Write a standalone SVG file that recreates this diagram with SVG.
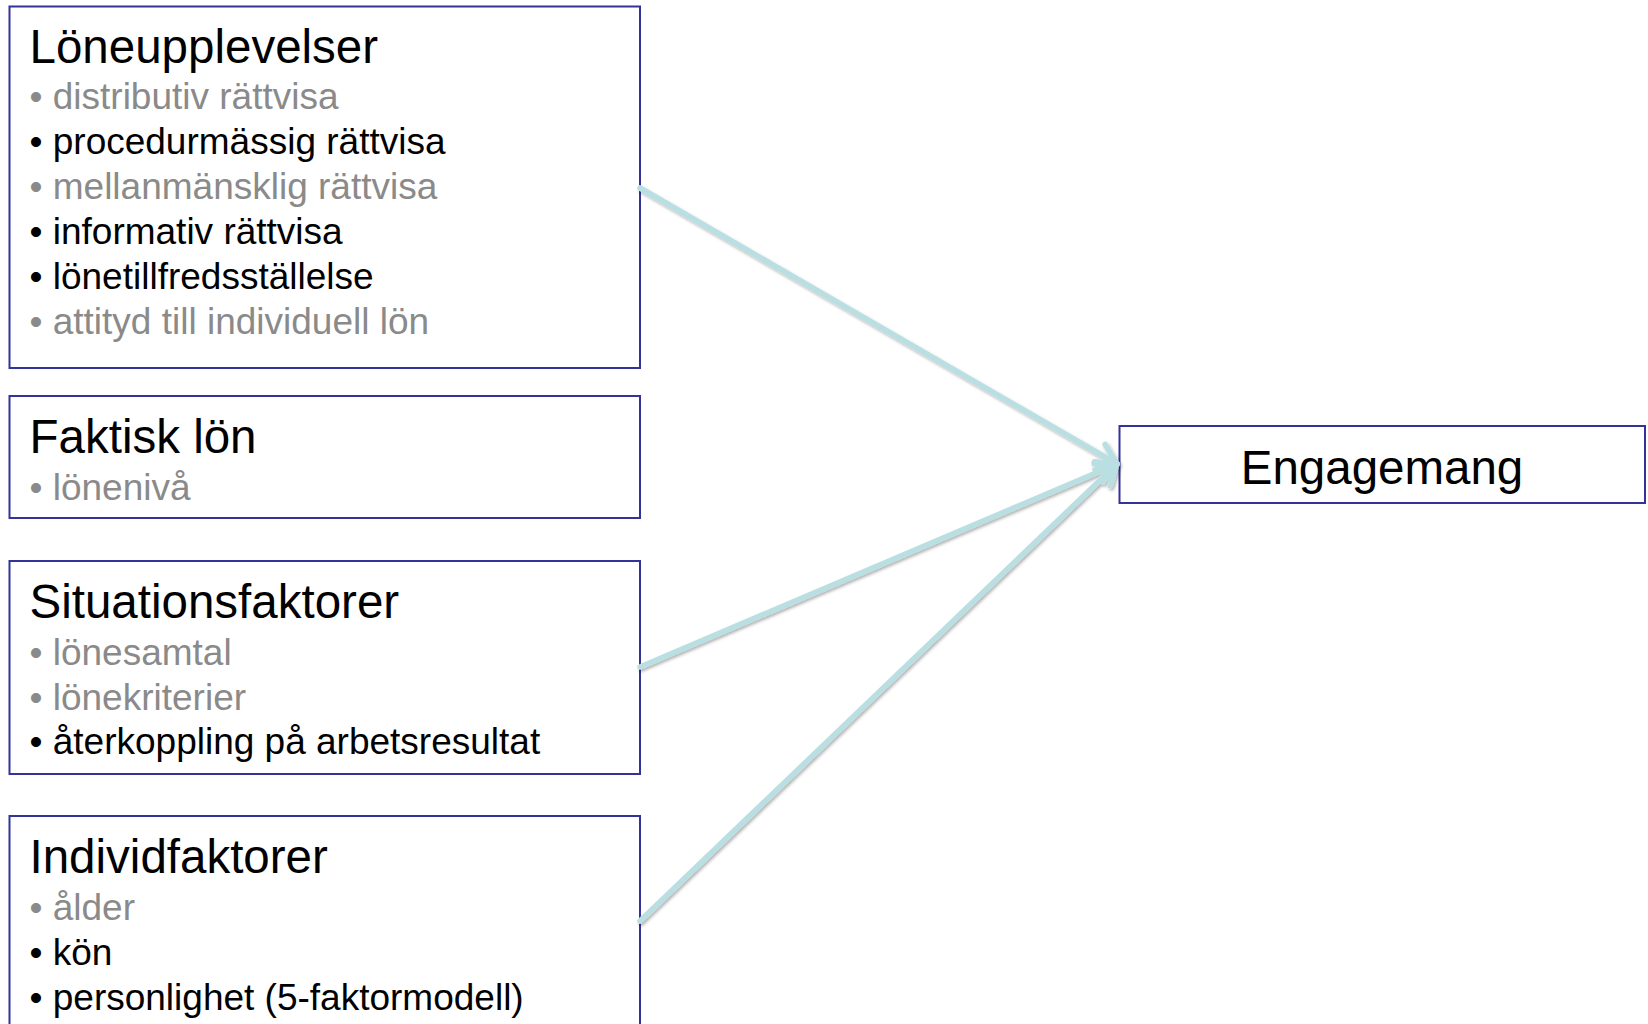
<svg xmlns="http://www.w3.org/2000/svg" width="1648" height="1024" viewBox="0 0 1648 1024">
<style>
.box{fill:#fff;stroke:#333399;stroke-width:2}
text{font-family:"Liberation Sans",Arial,sans-serif}
.title{font-size:47.5px;fill:#000}
.item{font-size:37px;fill:#000}
.dim{fill:#8a8a8a}
.conn{fill:none;stroke:#b9dfe2;stroke-width:5.5;stroke-linecap:round;stroke-linejoin:round}
</style>
<defs>
<filter id="sh" x="-10%" y="-10%" width="120%" height="120%">
<feDropShadow dx="1.5" dy="2" stdDeviation="1.5" flood-color="#000" flood-opacity="0.3"/>
</filter>
<marker id="ah" markerUnits="userSpaceOnUse" markerWidth="40" markerHeight="40" refX="0" refY="0" viewBox="-25 -20 30 40" orient="auto" overflow="visible">
<path d="M-20 -11 L0 0 L-20 11" fill="none" stroke="#b9dfe2" stroke-width="5.5" stroke-linecap="round" stroke-linejoin="round"/>
</marker>
</defs>
<g id="n1">
<rect class="box" x="9.5" y="6.5" width="630.5" height="361.5"/>
<text class="title" x="29.5" y="62.5">Löneupplevelser</text>
<text class="item dim" x="29.5" y="109">• distributiv rättvisa</text>
<text class="item" x="29.5" y="154">• procedurmässig rättvisa</text>
<text class="item dim" x="29.5" y="199">• mellanmänsklig rättvisa</text>
<text class="item" x="29.5" y="244">• informativ rättvisa</text>
<text class="item" x="29.5" y="289">• lönetillfredsställelse</text>
<text class="item dim" x="29.5" y="334">• attityd till individuell lön</text>
</g>
<g id="n2">
<rect class="box" x="9.5" y="396" width="630.5" height="122"/>
<text class="title" x="29.5" y="453">Faktisk lön</text>
<text class="item dim" x="29.5" y="500">• lönenivå</text>
</g>
<g id="n3">
<rect class="box" x="9.5" y="561" width="630.5" height="213"/>
<text class="title" x="29.5" y="618">Situationsfaktorer</text>
<text class="item dim" x="29.5" y="665">• lönesamtal</text>
<text class="item dim" x="29.5" y="710">• lönekriterier</text>
<text class="item" x="29.5" y="754">• återkoppling på arbetsresultat</text>
</g>
<g id="n4">
<rect class="box" x="9.5" y="816" width="630.5" height="230"/>
<text class="title" x="29.5" y="873">Individfaktorer</text>
<text class="item dim" x="29.5" y="920">• ålder</text>
<text class="item" x="29.5" y="965">• kön</text>
<text class="item" x="29.5" y="1010">• personlighet (5-faktormodell)</text>
</g>
<g id="n5">
<rect class="box" x="1119.5" y="426" width="525.5" height="77"/>
<text class="title" x="1382" y="484" text-anchor="middle">Engagemang</text>
</g>
<g id="connectors" filter="url(#sh)">
<line class="conn" x1="640" y1="188" x2="1117" y2="464" marker-end="url(#ah)"/>
<line class="conn" x1="640" y1="667" x2="1117" y2="464" marker-end="url(#ah)"/>
<line class="conn" x1="640" y1="921" x2="1117" y2="464" marker-end="url(#ah)"/>
</g>
</svg>
